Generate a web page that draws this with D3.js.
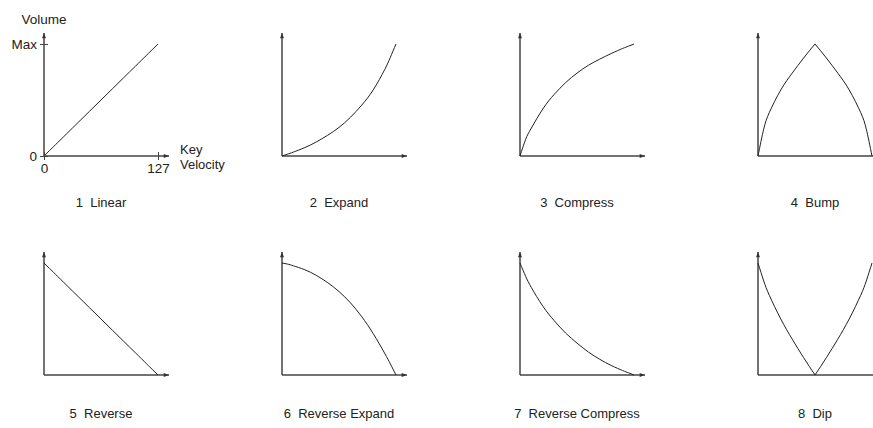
<!DOCTYPE html>
<html>
<head>
<meta charset="utf-8">
<script src="https://cdn.jsdelivr.net/npm/d3@7"></script>
<style>
    body { margin: 0; background: #fff; }
    text { font-family: 'Liberation Sans', Arial, sans-serif; font-size: 13px; fill: #222; }
    .axis-line { stroke: #444; stroke-width: 1.5; fill: none; }
    .curve { stroke: #222; stroke-width: 1; fill: none; }
</style>
</head>
<body>
<div id="chart"></div>
<script>
    // key velocity sample points (0..127)
    const velocity = [0, 6.35, 12.7, 25.4, 38.1, 50.8, 63.5, 76.2, 88.9, 101.6, 114.3, 120.65, 127];

    // volume as fraction of Max
    const linear = [0, 0.05, 0.1, 0.2, 0.3, 0.4, 0.5, 0.6, 0.7, 0.8, 0.9, 0.95, 1];
    const expand = [0, 0.017, 0.035, 0.075, 0.125, 0.185, 0.255, 0.345, 0.455, 0.59, 0.77, 0.88, 1];
    const compress = [0, 0.15, 0.25, 0.42, 0.55, 0.655, 0.74, 0.81, 0.865, 0.915, 0.96, 0.98, 1];
    const bump = [0, 0.24, 0.39, 0.59, 0.74, 0.875, 1, 0.875, 0.74, 0.59, 0.39, 0.24, 0];
    const reverse = [1, 0.95, 0.9, 0.8, 0.7, 0.6, 0.5, 0.4, 0.3, 0.2, 0.1, 0.05, 0];
    const reverseExpand = [1, 0.99, 0.975, 0.94, 0.89, 0.825, 0.745, 0.645, 0.52, 0.37, 0.195, 0.1, 0];
    const reverseCompress = [1, 0.88, 0.78, 0.615, 0.485, 0.375, 0.285, 0.205, 0.14, 0.085, 0.04, 0.02, 0];
    const dip = [1, 0.84, 0.71, 0.5, 0.32, 0.155, 0, 0.155, 0.32, 0.5, 0.71, 0.84, 1];

    const curveNames = ['1  Linear', '2  Expand', '3  Compress', '4  Bump',
        '5  Reverse', '6  Reverse Expand', '7  Reverse Compress', '8  Dip'];
    const curveValues = [linear, expand, compress, bump, reverse, reverseExpand, reverseCompress, dip];
    // curves with a sharp corner in the middle are drawn as two halves
    const cuspIndex = [null, null, null, 6, null, null, null, 6];

    const W = 873, H = 428;
    const colX = [44, 282, 520, 758];
    const rowBase = [156, 375];
    const rowLabelY = [207, 418];
    const plotW = 114, plotH = 112;

    const svg = d3.select('#chart').append('svg')
        .attr('width', W).attr('height', H);

    svg.append('defs').append('marker')
        .attr('id', 'arrow')
        .attr('viewBox', '0 0 8 6')
        .attr('refX', 8).attr('refY', 3)
        .attr('markerWidth', 6).attr('markerHeight', 4)
        .attr('markerUnits', 'userSpaceOnUse')
        .attr('orient', 'auto')
        .append('path').attr('d', 'M0,0L8,3L0,6Z').attr('fill', '#333');

    curveValues.forEach(function (vals, i) {
        const col = i % 4, row = Math.floor(i / 4);
        const x = d3.scaleLinear().domain([0, 127]).range([colX[col], colX[col] + plotW]);
        const y = d3.scaleLinear().domain([0, 1]).range([rowBase[row], rowBase[row] - plotH]);
        const g = svg.append('g');

        // axes with arrowheads
        g.append('line').attr('class', 'axis-line')
            .attr('x1', x(0)).attr('x2', x(0))
            .attr('y1', y(0)).attr('y2', y(1) - 11)
            .attr('marker-end', 'url(#arrow)');
        g.append('line').attr('class', 'axis-line')
            .attr('x1', x(0)).attr('x2', x(127) + 11)
            .attr('y1', y(0)).attr('y2', y(0))
            .attr('marker-end', 'url(#arrow)');

        const line = d3.line()
            .x(function (d) { return x(d[0]); })
            .y(function (d) { return y(d[1]); })
            .curve(d3.curveNatural);

        const pts = velocity.map(function (v, k) { return [v, vals[k]]; });
        const parts = cuspIndex[i] === null ? [pts] :
            [pts.slice(0, cuspIndex[i] + 1), pts.slice(cuspIndex[i])];
        parts.forEach(function (p) {
            g.append('path').attr('class', 'curve').attr('d', line(p));
        });

        g.append('text')
            .attr('x', x(63.5)).attr('y', rowLabelY[row])
            .attr('text-anchor', 'middle')
            .style('white-space', 'pre')
            .text(curveNames[i]);

        if (i === 0) {
            const yAxis = d3.axisLeft(y).tickValues([0, 1]).tickSize(4).tickPadding(3)
                .tickFormat(function (d) { return d === 1 ? 'Max' : '0'; });
            const ya = g.append('g').attr('transform', 'translate(' + x(0) + ',0)').call(yAxis);
            ya.select('.domain').remove();
            ya.selectAll('.tick line').attr('x1', 4).attr('stroke', '#444');
            ya.selectAll('text').attr('fill', '#222').style('font-size', '13.5px')
                .style('font-family', "'Liberation Sans', Arial, sans-serif");

            const xAxis = d3.axisBottom(x).tickValues([0, 127]).tickSize(4).tickPadding(3);
            const xa = g.append('g').attr('transform', 'translate(0,' + y(0) + ')').call(xAxis);
            xa.select('.domain').remove();
            xa.selectAll('.tick line').attr('y1', -4).attr('stroke', '#444');
            xa.selectAll('text').attr('fill', '#222').style('font-size', '13.5px')
                .style('font-family', "'Liberation Sans', Arial, sans-serif");

            g.append('text').attr('x', x(0)).attr('y', 24).style('font-size', '13.5px')
                .attr('text-anchor', 'middle').text('Volume');
            g.append('text').attr('x', 180).attr('y', 154).style('font-size', '13px').text('Key');
            g.append('text').attr('x', 180).attr('y', 169).style('font-size', '13px').text('Velocity');
        }
    });
</script>
</body>
</html>
